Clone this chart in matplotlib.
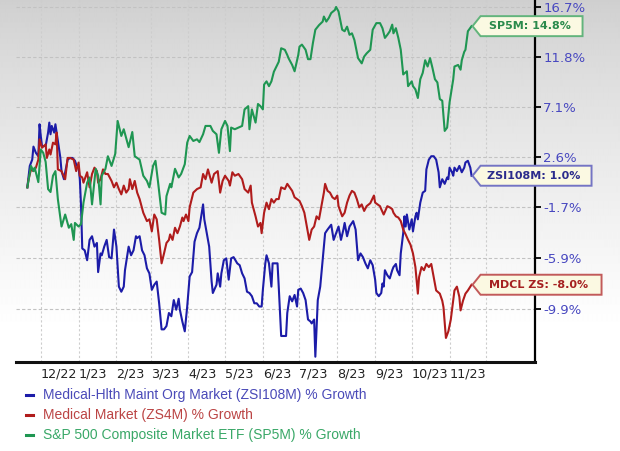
import numpy as np
import matplotlib
matplotlib.use("Agg")
import matplotlib.pyplot as plt
import matplotlib.transforms as mtrans
from matplotlib.patches import Polygon
from matplotlib.lines import Line2D
import pandas as pd

# ---------------- data (days since 2022-11-20, % growth) ----------------
START = pd.Timestamp("2022-11-20")

blue_days = [0, 2, 4, 5, 7, 9, 10, 11, 12, 15,
             17, 18, 19, 20, 22, 23, 25, 27, 28, 30,
             31, 33, 35, 37, 39, 40, 42, 43, 44, 45,
             47, 49, 51, 53, 55, 57, 58, 60, 61, 63,
             65, 67, 69, 71, 73, 75, 77, 79, 80, 83,
             85, 87, 89, 90, 92, 94, 96, 98, 100, 102,
             104, 106, 108, 110, 112, 114, 116, 118, 120, 122,
             124, 125, 127, 129, 131, 133, 135, 137, 139, 141,
             144, 145, 147, 149, 151, 152, 155, 156, 158, 159,
             161, 163, 165, 167, 169, 172, 174, 176, 178, 180,
             182, 184, 186, 188, 190, 192, 193, 195, 196, 198,
             200, 201, 204, 205, 206, 208, 210, 212, 213, 215,
             217, 219, 221, 222, 224, 226, 228, 230, 232, 233,
             235, 236, 238, 240, 242, 244, 246, 249, 251, 253,
             255, 257, 259, 260, 262, 264, 267, 269, 271, 273,
             275, 277, 279, 281, 283, 285, 286, 288, 290, 291,
             292, 293, 295, 297, 299, 300, 302, 303, 305, 306,
             308, 309, 310, 311, 313, 315, 316, 318, 319, 320,
             322, 324, 326, 327, 329, 331, 333, 335, 337, 338,
             340, 342, 344, 345, 346, 348, 349, 350, 352, 354,
             356, 358, 359, 361, 363, 364]
blue_pct = [0.0, 1.85, 2.4, 3.55, 3.0, 2.7, 5.55, 4.5, 3.6, 3.6,
            4.8, 5.7, 4.65, 5.4, 4.8, 5.55, 4.05, 2.6, 1.4, 0.7,
            1.3, 2.4, 2.55, 2.55, 2.3, 2.0, 1.7, 0.7, -1.6, -5.1,
            -5.25, -6.05, -4.4, -4.1, -4.95, -4.65, -7.0, -5.5, -5.65, -4.95,
            -4.4, -5.8, -5.9, -3.55, -4.95, -8.15, -8.55, -8.15, -6.85, -4.95,
            -5.65, -5.25, -4.1, -4.25, -4.1, -5.25, -5.65, -6.7, -7.1, -8.4,
            -8.0, -7.75, -9.45, -11.45, -11.45, -11.2, -10.2, -10.45, -9.2, -9.95,
            -9.1, -9.95, -10.85, -11.6, -9.7, -7.35, -7.0, -4.55, -3.85, -3.4,
            -1.45, -2.7, -3.85, -4.95, -7.75, -8.65, -8.0, -7.1, -8.15, -7.1,
            -6.05, -5.9, -7.6, -5.9, -5.8, -6.3, -6.45, -7.1, -7.5, -8.55,
            -8.65, -8.9, -9.45, -9.45, -9.7, -9.7, -8.4, -6.3, -5.65, -6.3,
            -8.15, -6.3, -6.3, -6.3, -8.15, -11.95, -11.95, -11.95, -10.2, -8.9,
            -9.3, -8.8, -9.7, -8.4, -8.3, -8.65, -9.2, -10.7, -10.85, -11.0,
            -10.7, -13.5, -9.2, -8.15, -6.05, -3.85, -3.55, -3.15, -4.4, -3.85,
            -3.3, -4.4, -3.55, -3.0, -4.1, -3.3, -2.85, -3.55, -6.05, -5.5,
            -5.8, -6.3, -6.7, -6.05, -6.45, -7.6, -8.65, -8.9, -8.65, -7.9,
            -8.15, -6.85, -7.25, -7.5, -6.85, -6.6, -6.35, -6.85, -7.25, -5.5,
            -3.85, -2.45, -3.3, -2.3, -3.55, -2.7, -3.7, -2.45, -2.15, -2.7,
            -1.3, -0.45, -0.3, 1.55, 2.4, 2.7, 2.7, 2.4, 1.3, 0.0,
            0.7, 0.3, 0.85, 0.7, 1.7, 1.3, 1.0, 1.7, 1.4, 1.85,
            1.3, 1.7, 2.15, 2.3, 1.7, 1.0]

red_days = [0, 1, 3, 5, 7, 9, 10, 12, 15, 16,
            18, 19, 21, 23, 24, 25, 28, 29, 31, 33,
            35, 38, 40, 42, 43, 45, 46, 49, 51, 53,
            55, 57, 58, 60, 62, 64, 66, 69, 71, 73,
            75, 77, 79, 81, 83, 84, 86, 88, 90, 92,
            95, 98, 100, 102, 104, 106, 108, 110, 112, 114,
            116, 117, 119, 121, 123, 125, 127, 128, 130, 132,
            133, 136, 139, 142, 144, 146, 148, 151, 153, 156,
            158, 160, 162, 165, 166, 168, 170, 173, 176, 178,
            181, 183, 184, 187, 189, 191, 192, 194, 196, 198,
            200, 202, 204, 206, 208, 211, 213, 214, 217, 219,
            221, 223, 225, 227, 229, 231, 233, 235, 237, 239,
            241, 243, 244, 246, 248, 250, 252, 254, 255, 258,
            260, 262, 264, 266, 268, 270, 272, 274, 276, 278,
            281, 284, 285, 287, 289, 290, 292, 295, 297, 299,
            300, 302, 304, 306, 308, 310, 312, 314, 316, 318,
            320, 321, 323, 325, 327, 329, 331, 333, 335, 338,
            340, 341, 343, 345, 347, 349, 350, 352, 354, 355,
            357, 359, 361, 363, 364]
red_pct = [0.0, 0.7, 1.55, 1.4, 1.7, 2.4, 4.2, 3.45, 3.75, 2.55,
           3.3, 2.85, 3.9, 3.75, 4.8, 1.55, 1.4, 1.15, 0.7, 2.55,
           2.55, 2.4, 1.4, 2.15, 1.0, 0.85, 0.4, 1.3, 0.0, 1.15,
           1.7, 1.4, 0.4, 0.7, 1.55, 1.15, 1.15, 0.55, 0.0, 0.4,
           -0.15, -0.6, 0.15, -0.45, -0.15, 0.7, -0.15, 0.55, -0.45, -1.0,
           -2.15, -2.85, -2.7, -3.7, -2.3, -2.7, -4.4, -6.3, -5.5, -4.65,
           -4.4, -3.95, -4.4, -3.4, -3.85, -3.3, -2.55, -2.85, -2.3, -2.85,
           -1.7, -0.45, -0.15, 0.0, 1.15, 0.7, 1.55, 0.4, 1.15, 1.4,
           -0.45, 0.55, 1.0, 0.55, 0.15, 1.3, 1.0, 1.15, 0.7, -0.15,
           -0.45, 0.15, -1.3, -2.45, -3.3, -3.0, -3.85, -2.15, -1.3, -1.85,
           -1.0, -1.3, -1.0, -1.0, 0.0, -0.15, 0.3, 0.15, -0.3, -0.85,
           -1.0, -1.15, -1.6, -2.15, -3.3, -4.4, -3.55, -3.3, -2.45, -2.7,
           -1.6, -0.45, 0.3, -0.3, -0.45, -0.85, -1.0, -0.7, -1.6, -2.45,
           -2.15, -1.3, -0.7, -0.3, -0.45, -1.0, -1.7, -1.45, -2.0, -1.6,
           -1.35, -0.7, -1.3, -1.45, -1.6, -1.85, -2.3, -1.6, -1.7, -1.85,
           -2.15, -2.45, -2.55, -2.85, -3.55, -3.95, -4.4, -4.8, -5.5, -6.6,
           -8.7, -7.4, -6.6, -6.85, -6.35, -6.6, -6.35, -7.4, -8.45, -8.7,
           -9.25, -9.75, -12.1, -11.6, -10.7, -9.25, -8.45, -8.15, -8.95, -10.0,
           -9.25, -8.7, -8.45, -8.15, -8.0]

green_days = [0, 3, 5, 6, 9, 11, 13, 15, 17, 19,
              21, 23, 25, 28, 31, 34, 36, 38, 39, 42,
              44, 46, 49, 51, 53, 56, 58, 60, 61, 64,
              66, 69, 72, 74, 77, 79, 83, 86, 88, 92,
              95, 98, 100, 103, 105, 107, 110, 113, 114, 117,
              118, 121, 124, 126, 129, 131, 133, 136, 139, 141,
              144, 146, 150, 152, 155, 157, 159, 162, 164, 166,
              167, 170, 173, 176, 178, 181, 182, 184, 187, 189,
              191, 193, 194, 196, 198, 200, 202, 206, 208, 211,
              213, 214, 217, 219, 222, 223, 225, 228, 230, 232,
              234, 236, 239, 242, 243, 245, 247, 249, 252, 253,
              255, 258, 260, 262, 264, 266, 268, 271, 274, 276,
              278, 281, 283, 286, 289, 291, 293, 295, 297, 299,
              300, 302, 304, 306, 308, 311, 312, 315, 316, 318,
              320, 322, 324, 326, 328, 330, 332, 334, 336, 338,
              340, 342, 344, 346, 349, 350, 353, 355, 356, 358,
              359, 361, 364]
green_pct = [0.0, 1.85, 1.4, 1.7, 0.45, 3.3, 3.0, 2.2, -0.15, -0.4,
             1.0, 1.4, -1.0, -3.3, -2.3, -3.4, -3.1, -4.4, -3.0, -3.3,
             -3.1, -1.3, 0.4, 0.85, -1.45, 1.6, 1.0, -1.45, 1.0, 1.6,
             2.7, 1.85, 2.9, 5.85, 4.5, 5.1, 3.5, 4.85, 2.7, 2.4,
             1.0, 0.55, 0.0, 1.85, 2.3, 0.55, -2.15, -2.3, -0.75, 0.3,
             0.0, 1.6, 0.85, 1.15, 2.0, 3.9, 4.5, 4.05, 4.2, 3.95,
             4.65, 5.4, 5.4, 4.95, 4.65, 3.0, 5.1, 5.85, 5.4, 3.15,
             5.25, 5.1, 5.25, 5.4, 6.9, 7.2, 5.1, 6.9, 5.7, 7.4,
             7.2, 6.9, 9.2, 9.5, 9.05, 9.5, 10.4, 11.35, 12.65, 12.5,
             12.0, 11.7, 11.05, 10.45, 12.0, 12.8, 13.0, 12.5, 11.6, 11.6,
             13.15, 14.45, 14.9, 15.25, 15.75, 15.25, 15.6, 16.1, 16.4, 16.7,
             16.25, 14.45, 14.3, 14.75, 13.95, 14.1, 13.45, 11.7, 11.2, 11.85,
             12.15, 12.5, 14.45, 15.1, 15.1, 14.6, 13.65, 13.95, 14.3, 14.95,
             14.1, 14.6, 13.65, 12.5, 10.15, 10.45, 9.05, 9.5, 9.05, 8.75,
             7.95, 9.7, 10.3, 11.5, 10.9, 11.7, 10.75, 9.7, 9.4, 7.85,
             7.7, 4.95, 5.25, 7.55, 9.7, 10.9, 11.05, 10.6, 11.5, 12.3,
             12.5, 14.3, 14.8]

y_ticks = [16.7, 11.8, 7.1, 2.6, -1.7, -5.9, -9.9]

series_names = ["Medical-Hlth Maint Org Market (ZSI108M) % Growth",
                "Medical Market (ZS4M) % Growth",
                "S&P 500 Composite Market ETF (SP5M) % Growth"]
tag_texts = ["ZSI108M: 1.0%", "MDCL ZS: -8.0%", "SP5M: 14.8%"]

# ---------------- styling ----------------
W, H = 620, 451
line_colors = ["#1c1ca8", "#b01c1c", "#1f9652"]
legend_text_colors = ["#4a4ab8", "#bb4444", "#3aa868"]
tag_text_colors = ["#2b2b8c", "#a52020", "#2b8a4c"]
tag_edge_colors = ["#7474c4", "#c25a5a", "#62b47c"]
tag_widths = [111, 121, 102]

fig = plt.figure(figsize=(W / 100, H / 100), dpi=100)
fig.patch.set_facecolor("white")

# background gradient (grey at top fading to white)
bg = fig.add_axes([0, 0, 1, 1], zorder=-10)
rows = np.arange(H)
shade = np.clip(0.81 + 0.19 * (rows / 330.0) ** 0.8, 0, 1)
img = np.repeat(shade[:, None], 4, axis=1)
bg.imshow(img, cmap="gray", vmin=0, vmax=1, aspect="auto",
          extent=[0, 1, 0, 1], origin="upper", interpolation="bilinear")
bg.axis("off")

left_px, right_px, top_px, bottom_px = 16, 535, 0, 362
ax = fig.add_axes([left_px / W, (H - bottom_px) / H,
                   (right_px - left_px) / W, (bottom_px - top_px) / H])
ax.set_facecolor("none")


def fwd(g):
    return np.log1p(np.asarray(g, dtype=float) / 100.0)


def inv(v):
    return np.expm1(np.asarray(v, dtype=float)) * 100.0


ax.set_yscale("function", functions=(fwd, inv))
ax.set_ylim(-13.89, 17.40)
ax.set_xlim(-9.3, 416.0)

# month gridlines
months = pd.date_range("2022-12-01", "2023-12-01", freq="MS")
month_days = [(m - START).days for m in months]
month_labels = [f"{m.month}/{m.strftime('%y')}" for m in months]
month_labels[-1] = ""
ax.set_xticks(month_days)
ax.set_xticklabels(month_labels, fontsize=9.2, color="#222222",
                   family="DejaVu Sans")
for lbl in ax.get_xticklabels():
    lbl.set_horizontalalignment("left")
ax.tick_params(axis="x", length=0, pad=4)

ax.yaxis.tick_right()
ax.set_yticks(y_ticks)
ax.set_yticklabels([f"{t:.1f}%" for t in y_ticks], fontsize=9.5,
                   color="#4848c0", family="DejaVu Sans")
ax.yaxis.set_minor_locator(matplotlib.ticker.NullLocator())
ax.tick_params(axis="y", which="major", direction="out", length=4,
               width=1.3, color="black", pad=2)

ax.xaxis.grid(True, color="#cdcdcd", linestyle=(0, (2, 2)), linewidth=0.8)
ax.yaxis.grid(True, color="#c2c2c2", linestyle=(0, (3, 2)), linewidth=0.8)
ax.set_axisbelow(True)

for s in ["left", "top"]:
    ax.spines[s].set_visible(False)
ax.spines["right"].set_linewidth(1.6)
ax.spines["right"].set_color("black")
ax.spines["bottom"].set_linewidth(2.2)
ax.spines["bottom"].set_color("#111111")

all_days = [blue_days, red_days, green_days]
all_pct = [blue_pct, red_pct, green_pct]
for d, p, c in zip(all_days, all_pct, line_colors):
    ax.plot(d, p, color=c, linewidth=1.5, solid_joinstyle="round",
            zorder=3)

# end-value tags
ident = mtrans.IdentityTransform()
for d, p, txt, tc, ec, w in zip(all_days, all_pct, tag_texts,
                                tag_text_colors, tag_edge_colors, tag_widths):
    px, py = ax.transData.transform((d[-1], p[-1]))
    px += 1
    hh = 10
    notch = 8
    pts = [(px, py), (px + notch, py + hh), (px + notch + w, py + hh),
           (px + notch + w, py - hh), (px + notch, py - hh)]
    poly = Polygon(pts, closed=True, facecolor="#fbf9e2", edgecolor=ec,
                   linewidth=1.4, transform=ident, zorder=5)
    fig.add_artist(poly)
    fig.text(px + notch + w / 2 - 2, py, txt, transform=ident,
             ha="center", va="center", fontsize=8, fontweight="bold",
             color=tc, family="DejaVu Sans", zorder=6)

# legend
leg_rows = [395, 415, 435]
for name, lc, tc, ry in zip(series_names, line_colors, legend_text_colors,
                            leg_rows):
    yy = (H - ry) / H
    fig.add_artist(Line2D([26 / W, 33 / W], [yy, yy], color=lc,
                          linewidth=2.2, transform=fig.transFigure))
    fig.text(43 / W, yy, name, ha="left", va="center", fontsize=10,
             color=tc, family="Liberation Sans")

fig.savefig("out.png", dpi=100)
